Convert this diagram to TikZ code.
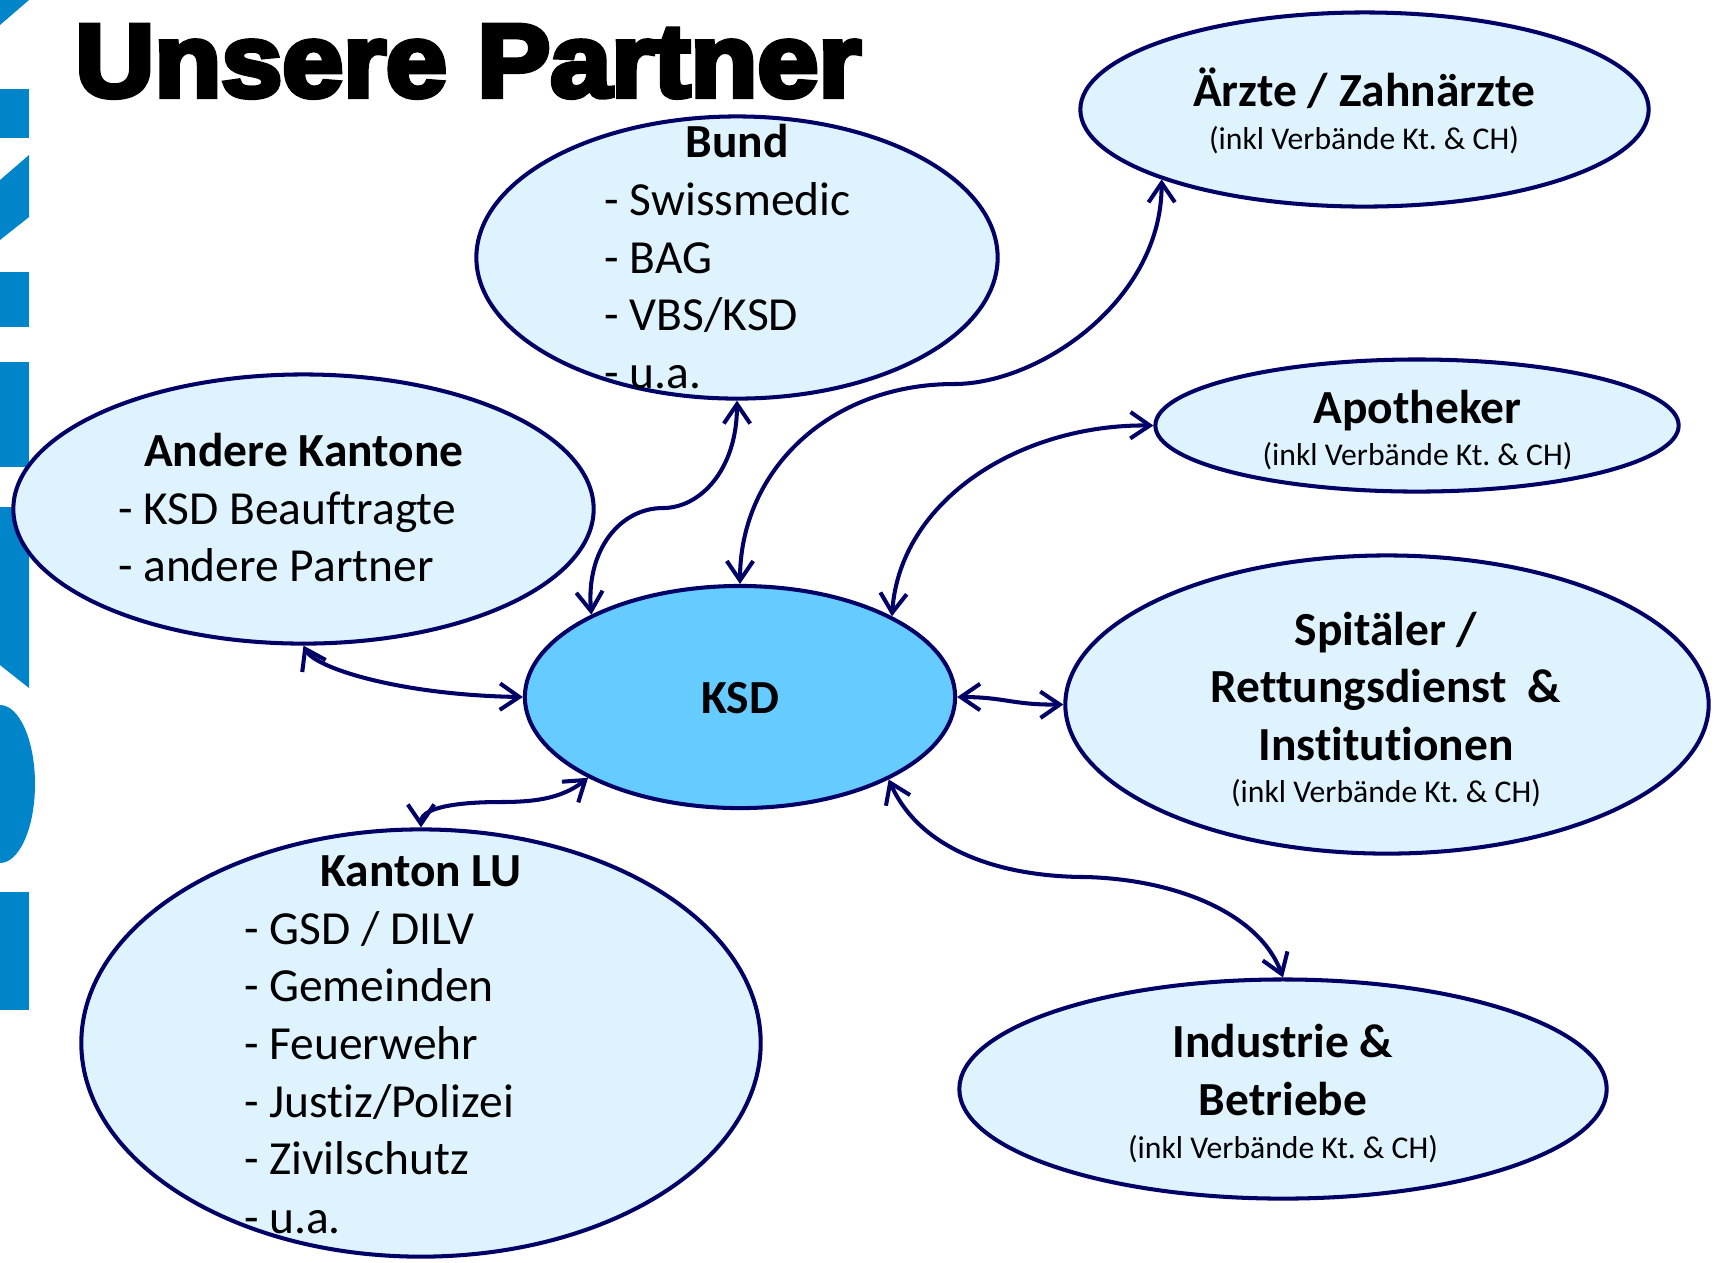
\documentclass[tikz,border=0pt]{standalone}
\usepackage{fontspec}
\usepackage{graphicx}
\setmainfont[Ligatures=NoCommon]{Carlito}
\newfontfamily\titlefont[FakeBold=5]{Liberation Sans Bold}
\usetikzlibrary{shapes.geometric,arrows.meta}
\frenchspacing

\definecolor{navy}{RGB}{0,0,102}
\definecolor{pale}{RGB}{223,243,255}
\definecolor{ksdblue}{RGB}{102,204,255}
\definecolor{logoblue}{RGB}{0,133,202}

\begin{document}
\begin{tikzpicture}[x=0.01cm,y=-0.01cm,
  partner/.style={ellipse,draw=navy,line width=1.15pt,fill=pale,inner sep=0pt},
  link/.style={draw=navy,line width=1.15pt,
    {Straight Barb[length=5.5pt,width=7.5pt]}-{Straight Barb[length=5.5pt,width=7.5pt]}},
  head/.style={font=\fontsize{13.5}{16}\selectfont\bfseries,anchor=base,inner sep=0pt},
  item/.style={font=\fontsize{13.5}{16}\selectfont,anchor=base west,inner sep=0pt},
  note/.style={font=\fontsize{9}{11}\selectfont,anchor=base,inner sep=0pt},
]
\useasboundingbox (0,0) rectangle (1719,1262);

% rotated logo lettering along the left edge
\begin{scope}[fill=logoblue]
  \fill (0,0) -- (29,0) -- (0,25) -- cycle;
  \fill (0,89) rectangle (29,138);
  \fill (0,180) -- (29,155) -- (29,217) -- (0,240) -- cycle;
  \fill (0,272) rectangle (29,327);
  \fill (0,362) rectangle (29,467);
  \fill (0,507) -- (29,507) -- (29,688) -- (0,665) -- cycle;
  \fill (0,705) arc[start angle=90,end angle=-90,x radius=35,y radius=-79] -- cycle;
  \fill (0,892) rectangle (29,1010);
\end{scope}

% title
\node[anchor=base west,inner sep=0pt,font=\titlefont\fontsize{28.6}{30}\selectfont]
  (title) at (74.5,96.5) {\scalebox{1.09}[1.03]{Unsere Partner}};

% partner ellipses
\node[partner,minimum width=5.21cm,minimum height=2.82cm] (bund) at (737,257.5) {};
\node[partner,minimum width=5.68cm,minimum height=1.94cm] (aerzte) at (1364.5,109.5) {};
\node[partner,minimum width=5.23cm,minimum height=1.32cm] (apo) at (1417,425.5) {};
\node[partner,minimum width=5.80cm,minimum height=2.69cm] (andere) at (303.5,509) {};
\node[partner,minimum width=6.43cm,minimum height=2.98cm] (spital) at (1387,704.5) {};
\node[partner,minimum width=6.47cm,minimum height=2.19cm] (industrie) at (1283,1089) {};
\node[partner,minimum width=6.79cm,minimum height=4.27cm] (lu) at (421,1043) {};
\node[partner,fill=ksdblue,minimum width=4.30cm,minimum height=2.22cm] (ksd) at (740,697) {};

% connectors
\draw[link] (bund.south) .. controls (737,470) and (700,508) .. (663,508)
  .. controls (620,508) and (586,550) .. (ksd.151.6);
\draw[link] (ksd.north) .. controls (740,470) and (830,384) .. (954,384)
  .. controls (1040,384) and (1162,300) .. (aerzte.199.5);
\draw[link] (ksd.28.4) .. controls (900,500) and (1020,424) .. (apo.west);
\draw[link] (ksd.east) .. controls (1005,697) and (1012,705) .. (spital.west);
\draw[link] (ksd.-29) .. controls (920,850) and (1000,877) .. (1087,877)
  .. controls (1180,880) and (1260,915) .. (industrie.north);
\draw[link] (andere.south) .. controls (315,668) and (400,695) .. (ksd.west);
\draw[link] (ksd.208.3) .. controls (560,800) and (530,802) .. (499,802)
  .. controls (470,802) and (421,805) .. (lu.north);

% labels
\node[head] (ksdtext) at (740,713) {KSD};

\node[head] (bundhead) at (737,157.5) {Bund};
\node[item] (bund1) at (604,215.6) {- Swissmedic};
\node[item] (bund2) at (604,273.7) {- BAG};
\node[item] (bund3) at (604,330.7) {- VBS/KSD};
\node[item] (bund4) at (604,388.8) {- u.a.};

\node[head] (aerztehead) at (1364,106) {Ärzte / Zahnärzte};
\node[note] (aerztenote) at (1364,149) {(inkl Verbände Kt. \& CH)};

\node[head] (apohead) at (1417.5,423) {Apotheker};
\node[note] (aponote) at (1417.5,465) {(inkl Verbände Kt. \& CH)};

\node[head] (andhead) at (303.7,466.7) {Andere Kantone};
\node[item] (and1) at (117.3,524.8) {- KSD Beauftragte};
\node[item] (and2) at (117.3,581.8) {- andere Partner};

\node[head] (sp1) at (1386,645) {Spitäler /};
\node[head] (sp2) at (1386,702) {Rettungsdienst~~\&};
\node[head] (sp3) at (1386,760.5) {Institutionen};
\node[note] (spnote) at (1386,802.6) {(inkl Verbände Kt. \& CH)};

\node[head] (ind1) at (1283,1057.6) {Industrie \&};
\node[head] (ind2) at (1283,1115.7) {Betriebe};
\node[note] (indnote) at (1283,1158.9) {(inkl Verbände Kt. \& CH)};

\node[head] (luhead) at (421,886.6) {Kanton LU};
\node[item] (lu1) at (243.4,944.7) {- GSD / DILV};
\node[item] (lu2) at (243.4,1001.7) {- Gemeinden};
\node[item] (lu3) at (243.4,1059.8) {- Feuerwehr};
\node[item] (lu4) at (243.4,1117.9) {- Justiz/Polizei};
\node[item] (lu5) at (243.4,1174.9) {- Zivilschutz};
\node[item] (lu6) at (243.4,1233) {- u.a.};
\end{tikzpicture}
\end{document}
